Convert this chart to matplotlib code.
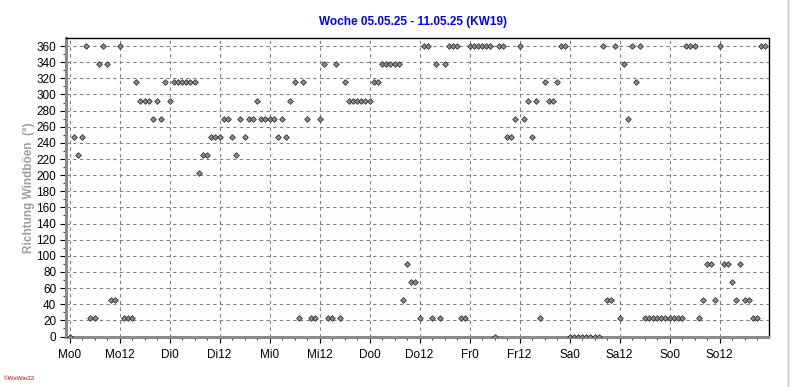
"""Weekly wind gust direction chart (WsWin style)."""

import matplotlib
matplotlib.use('Agg')
import matplotlib.pyplot as plt
from matplotlib.lines import Line2D
import numpy as np

TITLE = 'Woche 05.05.25 - 11.05.25 (KW19)'
Y_LABEL = 'Richtung Windböen  (°)'
DAY_NAMES = ['Mo', 'Di', 'Mi', 'Do', 'Fr', 'Sa', 'So']

# hourly gust direction in degrees, one row per day (00..23 h)
DIR_MO = [0, 247.5, 225, 247.5, 360, 22.5, 22.5, 337.5, 360, 337.5, 45, 45,
          360, 22.5, 22.5, 22.5, 315, 292.5, 292.5, 292.5, 270, 292.5, 270, 315]
DIR_DI = [292.5, 315, 315, 315, 315, 315, 315, 202.5, 225, 225, 247.5, 247.5,
          247.5, 270, 270, 247.5, 225, 270, 247.5, 270, 270, 292.5, 270, 270]
DIR_MI = [270, 270, 247.5, 270, 247.5, 292.5, 315, 22.5, 315, 270, 22.5, 22.5,
          270, 337.5, 22.5, 22.5, 337.5, 22.5, 315, 292.5, 292.5, 292.5, 292.5, 292.5]
DIR_DO = [292.5, 315, 315, 337.5, 337.5, 337.5, 337.5, 337.5, 45, 90, 67.5, 67.5,
          22.5, 360, 360, 22.5, 337.5, 22.5, 337.5, 360, 360, 360, 22.5, 22.5]
DIR_FR = [360, 360, 360, 360, 360, 360, 0, 360, 360, 247.5, 247.5, 270,
          360, 270, 292.5, 247.5, 292.5, 22.5, 315, 292.5, 292.5, 315, 360, 360]
DIR_SA = [0, 0, 0, 0, 0, 0, 0, 0, 360, 45, 45, 360,
          22.5, 337.5, 270, 360, 315, 360, 22.5, 22.5, 22.5, 22.5, 22.5, 22.5]
DIR_SO = [22.5, 22.5, 22.5, 22.5, 360, 360, 360, 22.5, 45, 90, 90, 45,
          360, 90, 90, 67.5, 45, 90, 45, 45, 22.5, 22.5, 360, 360]

W, H = 792, 387


def main() -> None:
    directions = np.array(DIR_MO + DIR_DI + DIR_MI + DIR_DO + DIR_FR + DIR_SA + DIR_SO)
    hours = np.arange(len(directions))

    plt.rcParams['font.family'] = ['Liberation Sans', 'DejaVu Sans']
    fig = plt.figure(figsize=(W / 100, H / 100), dpi=100)
    fig.patch.set_facecolor('white')

    left, right, top, bottom = 66, 768.5, 38.3, 336.5
    ax = fig.add_axes([left / W, (H - bottom) / H, (right - left) / W, (bottom - top) / H])

    ax.plot(hours, directions, ls='none', marker='D', ms=2.9,
            mfc='#8c8c8c', mec='#2a2a2a', mew=0.55, zorder=3)

    ax.set_xlim(-0.84, 167.75)
    ax.set_ylim(0, 369.6)

    major_x = np.arange(0, 168, 12)
    ax.set_xticks(major_x)
    ax.set_xticklabels([f'{DAY_NAMES[h // 24]}{h % 24}' for h in major_x])
    ax.set_xticks(np.arange(0, 168, 3), minor=True)
    ax.set_yticks(np.arange(0, 361, 20))
    ax.set_yticks(np.arange(0, 361, 10), minor=True)

    ax.tick_params(axis='both', which='major', labelsize=8.5, colors='#000000',
                   length=4, width=0.8, pad=3)
    ax.tick_params(axis='both', which='minor', length=2.5, width=0.8, color='#404040')
    ax.tick_params(axis='x', which='major', pad=5)

    ax.grid(True, which='major', color='#808080', ls=(0, (3, 3)), lw=0.8)
    ax.set_axisbelow(True)

    for side in ('left', 'bottom'):
        ax.spines[side].set_color('#8a8a8a')
        ax.spines[side].set_linewidth(2.2)
    for side in ('top', 'right'):
        ax.spines[side].set_color('black')
        ax.spines[side].set_linewidth(1.0)

    fig.text(413 / W, 1 - 22 / H, TITLE, ha='center', va='center',
             fontsize=8.5, fontweight='bold', color='#0000ff')
    fig.text(29 / W, 1 - 188 / H, Y_LABEL, ha='center', va='center', rotation=90,
             fontsize=8.5, fontweight='bold', color='#a0a0a0')
    fig.text(4 / W, 1 - 378 / H, '©WsWin32', ha='left', va='center',
             fontsize=4.5, color='#e00000')

    fig.add_artist(Line2D([788 / W, 788 / W], [0, 1], color='#c8c8c8', lw=1.0))

    fig.savefig('out.png', dpi=100)
    plt.close(fig)


if __name__ == '__main__':
    main()
